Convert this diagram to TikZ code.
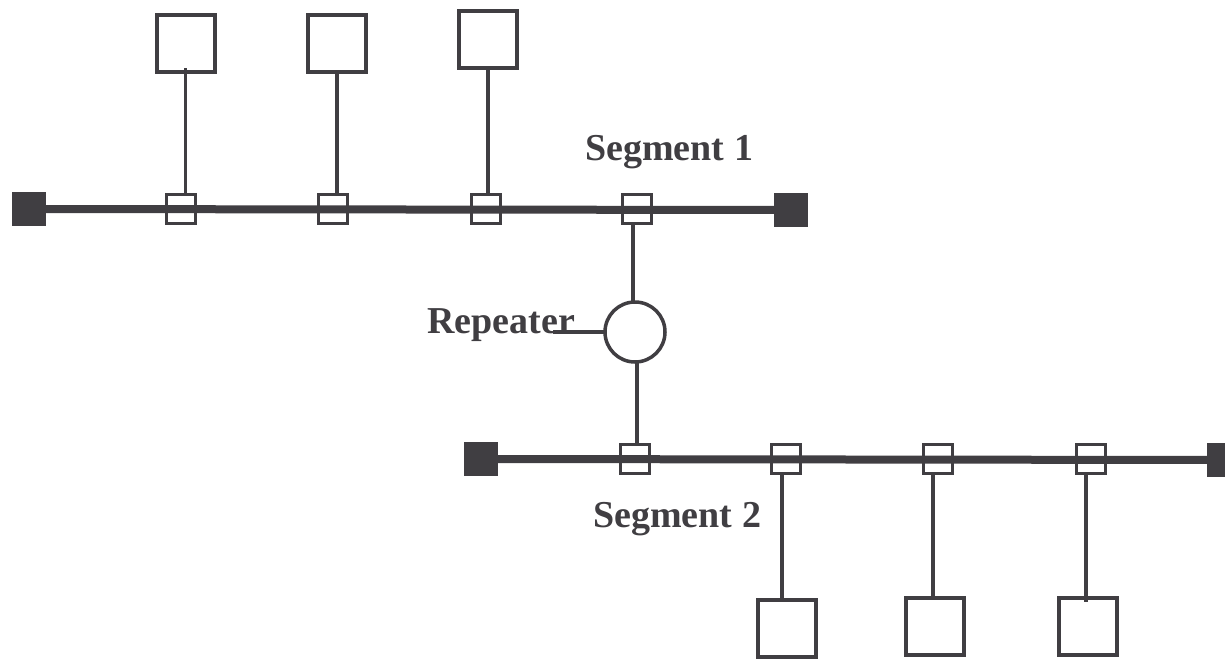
\documentclass[tikz,border=0pt]{standalone}
\usepackage{fontspec}
\setmainfont{Liberation Serif}
\definecolor{ink}{RGB}{64,62,66}
\begin{document}
\begin{tikzpicture}[x=1pt,y=-1pt,
  bus/.style={draw=ink,line width=8pt},
  term/.style={rectangle,fill=ink,minimum width=34pt,minimum height=34pt,inner sep=0pt,outer sep=0pt},
  tap/.style={rectangle,draw=ink,line width=3.2pt,minimum width=29pt,minimum height=29pt,inner sep=0pt,outer sep=0pt},
  dev/.style={rectangle,draw=ink,line width=4pt,minimum width=58pt,minimum height=57pt,inner sep=0pt,outer sep=0pt},
  stem/.style={draw=ink,line width=3.5pt},
  lbl/.style={text=ink,font=\fontsize{38}{40}\selectfont\bfseries,inner sep=0pt,anchor=base west}]
\useasboundingbox (0,0) rectangle (1225,659);
% segment 1
\node[term] (tl) at (29,209) {};
\node[term] (tr) at (791,210) {};
\draw[bus] (tl.center) -- (tr.center);
\node[tap] (t1) at (181,209) {};
\node[tap] (t2) at (333,209) {};
\node[tap] (t3) at (486,209) {};
\node[tap] (t4) at (637,209) {};
\node[dev] (d1) at (185.5,43.5) {};
\node[dev] (d2) at (337,43.5) {};
\node[dev] (d3) at (488,39.5) {};
\draw[stem] ([yshift=4pt]d1.south) -- (d1.south |- t1.north);
\draw[stem] (d2.south) -- (d2.south |- t2.north);
\draw[stem] (d3.south) -- (d3.south |- t3.north);
\node[lbl] (s1) at (585,160) {Segment 1};
% repeater
\node[circle,draw=ink,line width=3.5pt,minimum size=60pt,inner sep=0pt,outer sep=0pt] (rep) at (635,332) {};
\draw[stem] ([xshift=-2pt]rep.north) -- ([xshift=-2pt]rep.north |- t4.south);
\node[lbl] (rl) at (427,333) {Repeater};
\coordinate (rlend) at (553,332);
\draw[stem] (rlend) -- (rep.west);
% segment 2
\node[term] (bl) at (481,459) {};
\node[term] (br) at (1224,460) {};
\draw[bus] (bl.center) -- (br.center);
\node[tap] (b1) at (635,459) {};
\node[tap] (b2) at (786,459) {};
\node[tap] (b3) at (938,459) {};
\node[tap] (b4) at (1091,459) {};
\draw[stem] ([xshift=2pt]rep.south) -- ([xshift=2pt]rep.south |- b1.north);
\node[dev] (e1) at (787,628) {};
\node[dev] (e2) at (935,626) {};
\node[dev] (e3) at (1087.5,626) {};
\draw[stem] (b2.south -| 782,0) -- (e1.north -| 782,0);
\draw[stem] (b3.south -| 933,0) -- (e2.north -| 933,0);
\draw[stem] (b4.south -| 1086,0) -- ([yshift=-4pt]e3.north -| 1086,0);
\node[lbl] (s2) at (593,527) {Segment 2};
\end{tikzpicture}
\end{document}
